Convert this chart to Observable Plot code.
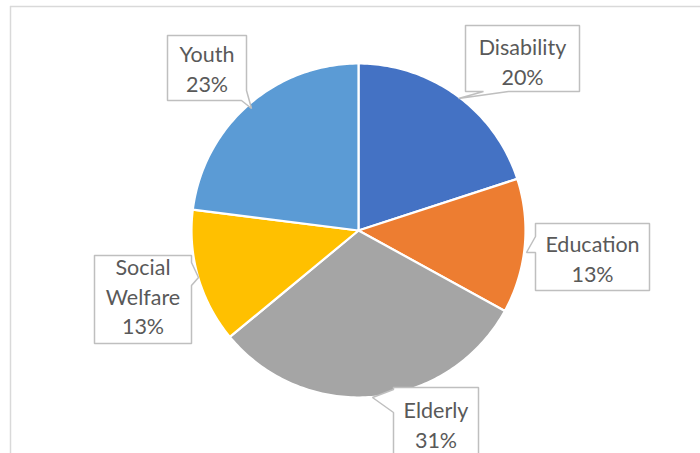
<!DOCTYPE html>
<html><head><meta charset="utf-8">
<script src="https://cdn.jsdelivr.net/npm/d3@7"></script>
<script src="https://cdn.jsdelivr.net/npm/@observablehq/plot@0.6"></script>
<style>
html,body{margin:0;padding:0;background:#fff;}
#chart svg{display:block;}
</style>
</head><body><div id="chart"></div>
<script>
// ---- data ----
const categories = ["Disability", "Education", "Elderly", "Social Welfare", "Youth"];
const values = [20, 13, 31, 13, 23];
const colors = ["#4472C4", "#ED7D31", "#A5A5A5", "#FFC000", "#5B9BD5"];
const labelNames = ["Disability", "Education", "Elderly", "Social\nWelfare", "Youth"];

// ---- layout (pixel space) ----
const pie = {cx: 358, cy: 230, r: 167};
// box: [x1,y1,x2,y2]; edge for wedge; wedge: [base a, tip, base b] in traversal order
const callouts = {
  "Disability":     {box: [465, 25, 579, 91],  edge: "bottom", wedge: [[508, 91], [458, 98], [483, 91]]},
  "Education":      {box: [535, 223, 649, 290], edge: "left",   wedge: [[535, 252], [526, 252], [535, 236]]},
  "Elderly":        {box: [393, 387, 478, 470], edge: "left",   wedge: [[393, 412], [372, 397], [393, 389]]},
  "Social Welfare": {box: [94, 255, 191, 343],  edge: "right",  wedge: [[191, 262], [198, 277], [191, 285]]},
  "Youth":          {box: [167, 35, 246, 100],  edge: "corner", wedge: [[246, 90], [251, 108], [241, 100]]}
};
const textCenterY = {"Disability": 60, "Education": 257, "Elderly": 423, "Social Welfare": 295, "Youth": 67};

// ---- slices ----
const total = d3.sum(values);
const arcs = d3.pie().sort(null).value(d => d.value)(categories.map((c, i) => ({cat: c, value: values[i]})));
const slicePts = [];
for (const a of arcs) {
  const cat = a.data.cat;
  slicePts.push({cat, x: pie.cx, y: pie.cy});
  const n = Math.max(2, Math.ceil((a.endAngle - a.startAngle) / (2 * Math.PI) * 360));
  for (let k = 0; k <= n; k++) {
    const t = a.startAngle + (a.endAngle - a.startAngle) * k / n;
    slicePts.push({cat, x: pie.cx + pie.r * Math.sin(t), y: pie.cy - pie.r * Math.cos(t)});
  }
  slicePts.push({cat, x: pie.cx, y: pie.cy});
}

// ---- callout shapes ----
const calloutPts = [];
for (const cat of categories) {
  const {box: [x1, y1, x2, y2], edge, wedge} = callouts[cat];
  let pts;
  if (edge === "bottom") pts = [[x1, y1], [x2, y1], [x2, y2], ...wedge, [x1, y2]];
  else if (edge === "left") pts = [[x1, y1], [x2, y1], [x2, y2], [x1, y2], ...wedge];
  else if (edge === "right") pts = [[x1, y1], [x2, y1], ...wedge, [x2, y2], [x1, y2]];
  else pts = [[x1, y1], [x2, y1], ...wedge, [x1, y2]];
  pts.push(pts[0]);
  for (const [x, y] of pts) calloutPts.push({cat, x, y});
}

const textData = categories.map((cat, i) => {
  const [x1, , x2] = callouts[cat].box;
  return {cat, x: (x1 + x2) / 2, y: textCenterY[cat],
          text: labelNames[i] + "\n" + Math.round(values[i] / total * 100) + "%"};
});

const chart = Plot.plot({
  width: 700, height: 453, margin: 0,
  x: {domain: [0, 700], range: [0, 700], axis: null},
  y: {domain: [0, 453], range: [0, 453], axis: null},
  color: {domain: categories, range: colors},
  style: {background: "#fff"},
  marks: [
    Plot.ruleX([10], {y1: 6, y2: 453, stroke: "#d9d9d9", strokeWidth: 1.5}),
    Plot.ruleY([6], {x1: 10, x2: 700, stroke: "#d9d9d9", strokeWidth: 1.5}),
    Plot.line(slicePts, {x: "x", y: "y", z: "cat", fill: "cat", stroke: "white", strokeWidth: 2.2, strokeLinejoin: "round"}),
    Plot.line(calloutPts, {x: "x", y: "y", z: "cat", fill: "white", stroke: "#bfbfbf", strokeWidth: 1.5, strokeLinejoin: "miter"}),
    Plot.text(textData, {x: "x", y: "y", text: "text", fontSize: 21.5, lineHeight: 1.37, fill: "#595959",
      fontFamily: "Lato, 'Open Sans', sans-serif", textAnchor: "middle", lineAnchor: "middle"})
  ]
});
document.getElementById("chart").appendChild(chart);
</script>
</body></html>
